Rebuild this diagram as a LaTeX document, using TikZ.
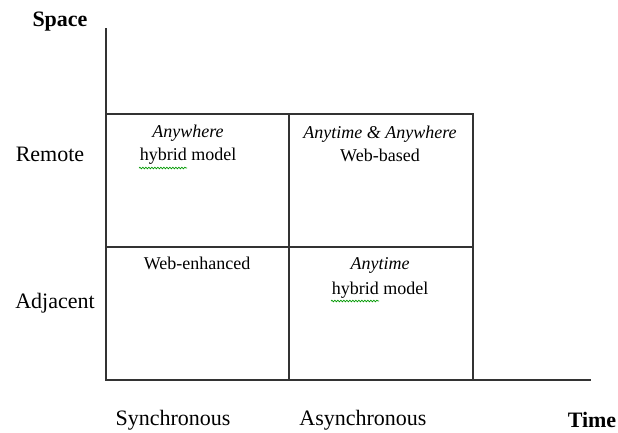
\documentclass[tikz,border=0pt]{standalone}
\usepackage{fontspec}
\setmainfont{Liberation Serif}
\usetikzlibrary{decorations.pathmorphing}
\begin{document}
\begin{tikzpicture}[x=1pt,y=-1pt,
  axis/.style={line width=1.6pt,color=black!80},
  grid/.style={line width=1.6pt,color=black!80},
  biglabel/.style={inner sep=0pt,font=\fontsize{22}{24}\selectfont},
  boldlabel/.style={inner sep=0pt,font=\fontsize{22}{24}\selectfont\bfseries},
  celltext/.style={inner sep=0pt,align=center,font=\fontsize{18}{23}\selectfont},
  spell/.style={draw=green!60!black,line width=0.7pt,decorate,decoration={snake,amplitude=0.8pt,segment length=3pt}}]
\useasboundingbox (0,0) rectangle (618,432);
% grid coordinates
\coordinate (o) at (106,380);
\coordinate (ytop) at (106,28);
\coordinate (xend) at (591,380);
\coordinate (tl) at (106,114);
\coordinate (tr) at (473,114);
\coordinate (ml) at (106,247);
\coordinate (mr) at (473,247);
\coordinate (tm) at (289,114);
\coordinate (bm) at (289,380);
\coordinate (br) at (473,380);
% axes
\draw[axis] (ytop) -- (o) -- (xend);
% grid
\draw[grid] (tl) -- (tr) -- (br);
\draw[grid] (ml) -- (mr);
\draw[grid] (tm) -- (bm);
% axis labels
\node[boldlabel] (space) at (60,22) {Space};
\node[boldlabel] (time) at (592,420) {Time};
\node[biglabel] (remote) at (50,154) {Remote};
\node[biglabel] (adjacent) at (55,303) {Adjacent};
\node[biglabel] (sync) at (173,420) {Synchronous};
\node[biglabel] (async) at (363,420) {Asynchronous};
% cells
\node[celltext] (c1) at (188,145) {\textit{Anywhere}\\hybrid model};
\node[celltext] (c2) at (380,143.5) {\textit{Anytime \& Anywhere}\\Web-based};
\node[celltext] (c3) at (197,263) {Web-enhanced};
\node[celltext,font=\fontsize{18}{25}\selectfont] (c4) at (380,277.5) {\textit{Anytime}\\hybrid model};
% spell-check underlines
\coordinate (s1a) at (139,168); \coordinate (s1b) at (187,168);
\coordinate (s2a) at (331,301); \coordinate (s2b) at (379,301);
\draw[spell] (s1a) -- (s1b);
\draw[spell] (s2a) -- (s2b);
\end{tikzpicture}
\end{document}
